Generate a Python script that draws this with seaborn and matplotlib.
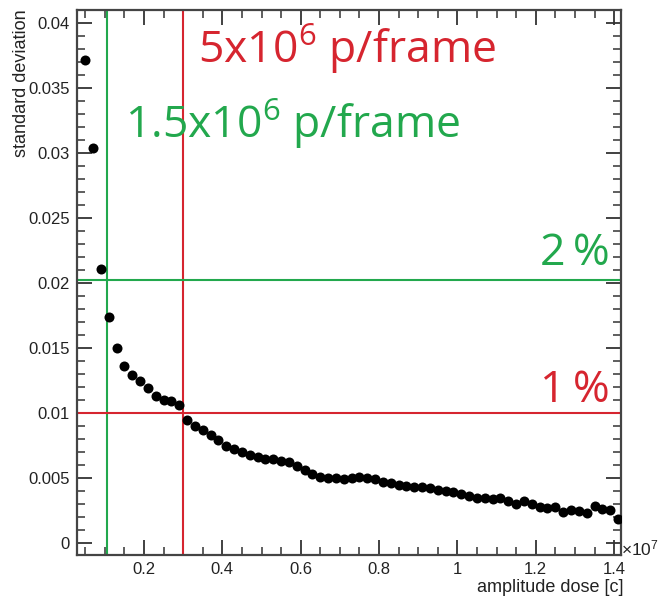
import numpy as np
import pandas as pd
import matplotlib
matplotlib.use("Agg")
import matplotlib.pyplot as plt
import seaborn as sns
from matplotlib.ticker import MultipleLocator, FormatStrFormatter

# amplitude dose [x10^7 c]
dose = [0.05, 0.07, 0.09, 0.11, 0.13, 0.15, 0.17, 0.19, 0.21, 0.23,
        0.25, 0.27, 0.29, 0.31, 0.33, 0.35, 0.37, 0.39, 0.41, 0.43,
        0.45, 0.47, 0.49, 0.51, 0.53, 0.55, 0.57, 0.59, 0.61, 0.63,
        0.65, 0.67, 0.69, 0.71, 0.73, 0.75, 0.77, 0.79, 0.81, 0.83,
        0.85, 0.87, 0.89, 0.91, 0.93, 0.95, 0.97, 0.99, 1.01, 1.03,
        1.05, 1.07, 1.09, 1.11, 1.13, 1.15, 1.17, 1.19, 1.21, 1.23,
        1.25, 1.27, 1.29, 1.31, 1.33, 1.35, 1.37, 1.39, 1.41]
# standard deviation
stdev = [0.0372, 0.0304, 0.0211, 0.0174, 0.0150, 0.0136, 0.0129, 0.0125, 0.0119, 0.0113,
         0.0110, 0.0109, 0.0106, 0.0095, 0.0090, 0.0087, 0.0083, 0.0079, 0.0075, 0.0072,
         0.0070, 0.0068, 0.0066, 0.0065, 0.0065, 0.0063, 0.0062, 0.0059, 0.0056, 0.0053,
         0.0051, 0.0050, 0.0050, 0.0049, 0.0050, 0.0051, 0.0050, 0.0049, 0.0047, 0.0046,
         0.0045, 0.0044, 0.0043, 0.0043, 0.0042, 0.0041, 0.0040, 0.0039, 0.0038, 0.0036,
         0.0035, 0.0035, 0.0034, 0.0035, 0.0032, 0.0030, 0.0032, 0.0030, 0.0028, 0.0027,
         0.0028, 0.00235, 0.00256, 0.00243, 0.0023, 0.00287, 0.0026, 0.00256, 0.00184]

# reference lines
dose_lines = [0.105, 0.30]
dose_line_labels = ["1.5x10$\\mathregular{^6}$ p/frame", "5x10$\\mathregular{^6}$ p/frame"]
std_lines = [0.0202, 0.010]
std_line_labels = ["2\u2009%", "1\u2009%"]

RED = "#d6252f"
GREEN = "#22a84d"

sns.set_style("ticks")
plt.rcParams["font.family"] = ["Liberation Sans", "DejaVu Sans"]

data = pd.DataFrame({"dose": dose, "stdev": stdev})

fig = plt.figure(figsize=(6.58, 5.98), dpi=100)
ax = fig.add_axes([0.117, 0.072, 0.827, 0.911])

ax.axvline(dose_lines[0], color=GREEN, lw=1.5, zorder=1)
ax.axvline(dose_lines[1], color=RED, lw=1.5, zorder=1)
ax.axhline(std_lines[0], color=GREEN, lw=1.5, zorder=1)
ax.axhline(std_lines[1], color=RED, lw=1.5, zorder=1)

sns.scatterplot(x="dose", y="stdev", data=data, ax=ax, color="black",
                s=52, edgecolor="black", linewidth=0, zorder=3)

ax.set_xlim(0.029, 1.418)
ax.set_ylim(-0.00092, 0.041)

ax.xaxis.set_major_locator(MultipleLocator(0.2))
ax.xaxis.set_minor_locator(MultipleLocator(0.05))
ax.yaxis.set_major_locator(MultipleLocator(0.005))
ax.yaxis.set_minor_locator(MultipleLocator(0.001))
ax.xaxis.set_major_formatter(FormatStrFormatter("%g"))
ax.yaxis.set_major_formatter(FormatStrFormatter("%g"))

ax.tick_params(which="both", direction="in", top=True, right=True,
               color="#333333", labelcolor="#222222", labelsize=12, pad=5)
ax.tick_params(which="major", length=11, width=1.3)
ax.tick_params(which="minor", length=6, width=1.1)
for sp in ax.spines.values():
    sp.set_color("#444444")
    sp.set_linewidth(1.6)

ax.set_xlabel("")
ax.set_ylabel("")
fig.text(0.947, 0.018, "amplitude dose [c]", ha="right", va="center",
         fontsize=13, color="#222222")
fig.text(0.032, 0.985, "standard deviation", ha="center", va="top",
         rotation=90, fontsize=13, color="#222222")
fig.text(0.944, 0.083, "\u00d710$\\mathregular{^7}$", ha="left", va="center",
         fontsize=12.5, color="#222222")

big = ["Open Sans", "DejaVu Sans"]
ax.text(0.338, 0.0369, dose_line_labels[1], color=RED, fontsize=32,
        family=big, ha="left", va="baseline")
ax.text(0.1515, 0.03115, dose_line_labels[0], color=GREEN, fontsize=32,
        family=big, ha="left", va="baseline")
ax.text(1.388, 0.0214, std_line_labels[0], color=GREEN, fontsize=32,
        family=big, ha="right", va="baseline")
ax.text(1.388, 0.01085, std_line_labels[1], color=RED, fontsize=32,
        family=big, ha="right", va="baseline")

fig.savefig("out.png", dpi=100, facecolor="white")
